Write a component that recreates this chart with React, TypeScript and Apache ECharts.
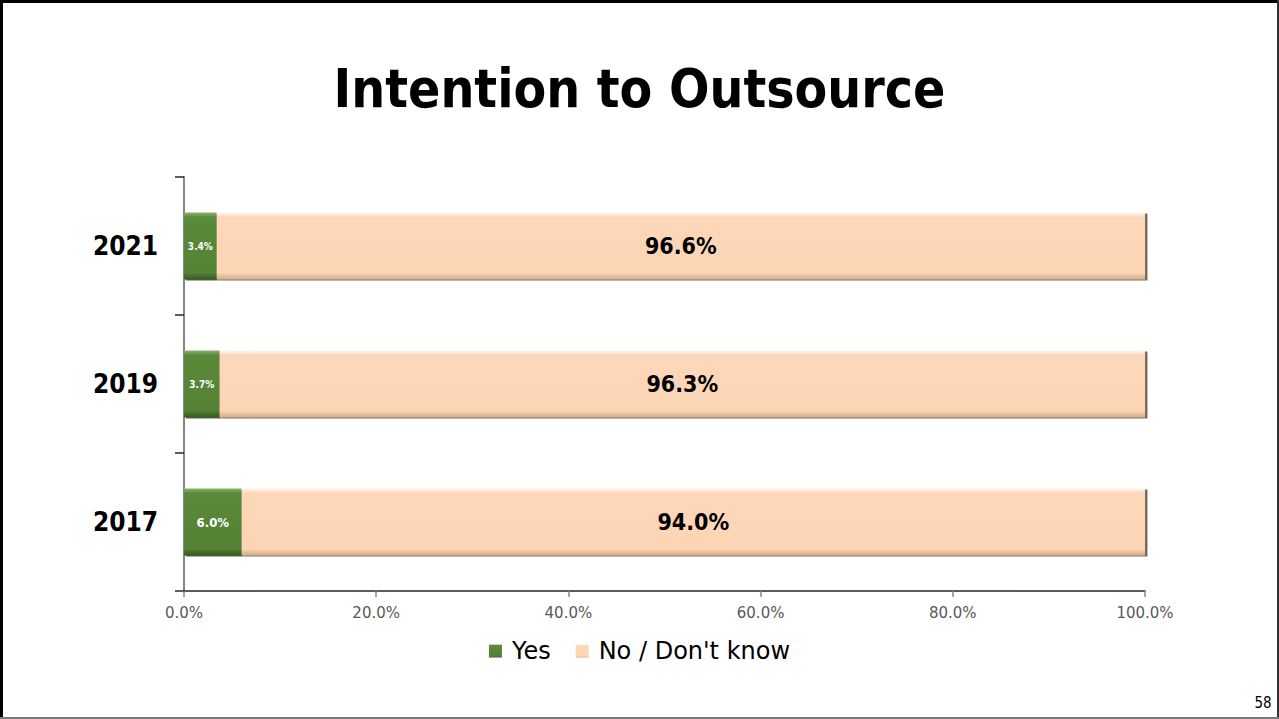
import React, { useEffect, useRef } from "react";
import * as echarts from "echarts";

const titleText = "Intention to Outsource";
const years = ["2017", "2019", "2021"];
const yesValues = [6.0, 3.7, 3.4];
const noValues = [94.0, 96.3, 96.6];
const xTicks = [0, 20, 40, 60, 80, 100];
const seriesNames = ["Yes", "No / Don't know"];
const pageNumber = "58";

const FONT = "'DejaVu Sans Condensed', 'DejaVu Sans', sans-serif";
const FONT_REG = "'DejaVu Sans', sans-serif";

export default function App() {
  const ref = useRef<HTMLDivElement>(null);
  useEffect(() => {
    if (!ref.current) return;
    const chart = echarts.init(ref.current, undefined, { renderer: "svg" });
    const grad = (stops: [number, string][]) =>
      new echarts.graphic.LinearGradient(
        0, 0, 0, 1,
        stops.map(([offset, color]) => ({ offset, color }))
      );
    const green = grad([
      [0, "#8cb36c"],
      [0.07, "#5a8a3a"],
      [0.9, "#548235"],
      [1, "#375720"],
    ]);
    const peach = grad([
      [0, "#fff6ee"],
      [0.07, "#fdd7b9"],
      [0.9, "#fcd5b5"],
      [1, "#d2aa8a"],
    ]);
    chart.setOption({
      animation: false,
      backgroundColor: "#ffffff",
      title: {
        text: titleText,
        left: "center",
        top: 58,
        padding: 0,
        textStyle: {
          fontFamily: FONT,
          fontSize: 53,
          fontWeight: "bold",
          color: "#000",
          lineHeight: 60,
        },
      },
      legend: {
        data: seriesNames,
        left: "center",
        top: 634,
        itemWidth: 13,
        itemHeight: 13,
        itemGap: 25,
        icon: "rect",
        textStyle: { fontFamily: FONT_REG, fontSize: 24, color: "#000", padding: [0, 0, 0, 5] },
      },
      grid: { left: 184, right: 134, top: 177, bottom: 128, containLabel: false },
      xAxis: {
        type: "value",
        min: xTicks[0],
        max: xTicks[xTicks.length - 1],
        interval: xTicks[1] - xTicks[0],
        splitLine: { show: false },
        axisLine: { show: true, lineStyle: { color: "#262626", width: 1.5 } },
        axisTick: { show: true, length: 6, lineStyle: { color: "#868686", width: 1.5 } },
        axisLabel: {
          formatter: (v: number) => v.toFixed(1) + "%",
          fontFamily: FONT_REG,
          fontSize: 15,
          color: "#595959",
          margin: 14,
        },
      },
      yAxis: {
        type: "category",
        data: years,
        axisLine: { show: true, lineStyle: { color: "#868686", width: 2 } },
        axisTick: { show: true, length: 9, lineStyle: { color: "#262626", width: 1.5 } },
        axisLabel: {
          fontFamily: FONT,
          fontSize: 26,
          fontWeight: "bold",
          color: "#000",
          margin: 26,
        },
      },
      series: [
        {
          name: seriesNames[0],
          type: "bar",
          stack: "total",
          barWidth: 67,
          data: yesValues.map((v) => ({
            value: v,
            label: { fontSize: v >= 5 ? 13 : 10 },
          })),
          itemStyle: {
            color: green,
            shadowColor: "rgba(30,45,20,0.75)",
            shadowOffsetX: 2,
            shadowOffsetY: 1,
            shadowBlur: 1,
          },
          label: {
            show: true,
            position: "inside",
            formatter: (p: any) => p.value.toFixed(1) + "%",
            color: "#fff",
            fontFamily: FONT,
            fontWeight: "bold",
          },
        },
        {
          name: seriesNames[1],
          type: "bar",
          stack: "total",
          barWidth: 67,
          data: noValues,
          itemStyle: {
            color: peach,
            shadowColor: "rgba(90,70,50,0.8)",
            shadowOffsetX: 2.5,
            shadowOffsetY: 1,
            shadowBlur: 1,
          },
          label: {
            show: true,
            position: "inside",
            formatter: (p: any) => p.value.toFixed(1) + "%",
            color: "#000",
            fontFamily: FONT,
            fontWeight: "bold",
            fontSize: 23,
          },
        },
      ],
      graphic: [
        { type: "rect", shape: { x: 0, y: 0, width: 1279, height: 3 }, style: { fill: "#000" }, silent: true },
        { type: "rect", shape: { x: 0, y: 0, width: 3, height: 719 }, style: { fill: "#000" }, silent: true },
        { type: "rect", shape: { x: 1277, y: 0, width: 2, height: 719 }, style: { fill: "#333" }, silent: true },
        { type: "rect", shape: { x: 0, y: 717, width: 1279, height: 2 }, style: { fill: "#7a7a7a" }, silent: true },
        {
          type: "text",
          x: 1263,
          y: 703,
          style: {
            text: pageNumber,
            fontFamily: FONT,
            fontSize: 15,
            fill: "#000",
            align: "center",
            verticalAlign: "middle",
          },
          silent: true,
        },
      ],
    });
    return () => chart.dispose();
  }, []);
  return (
    <div
      ref={ref}
      style={{ position: "fixed", left: 0, top: 0, width: 1279, height: 719, background: "#fff" }}
    />
  );
}
